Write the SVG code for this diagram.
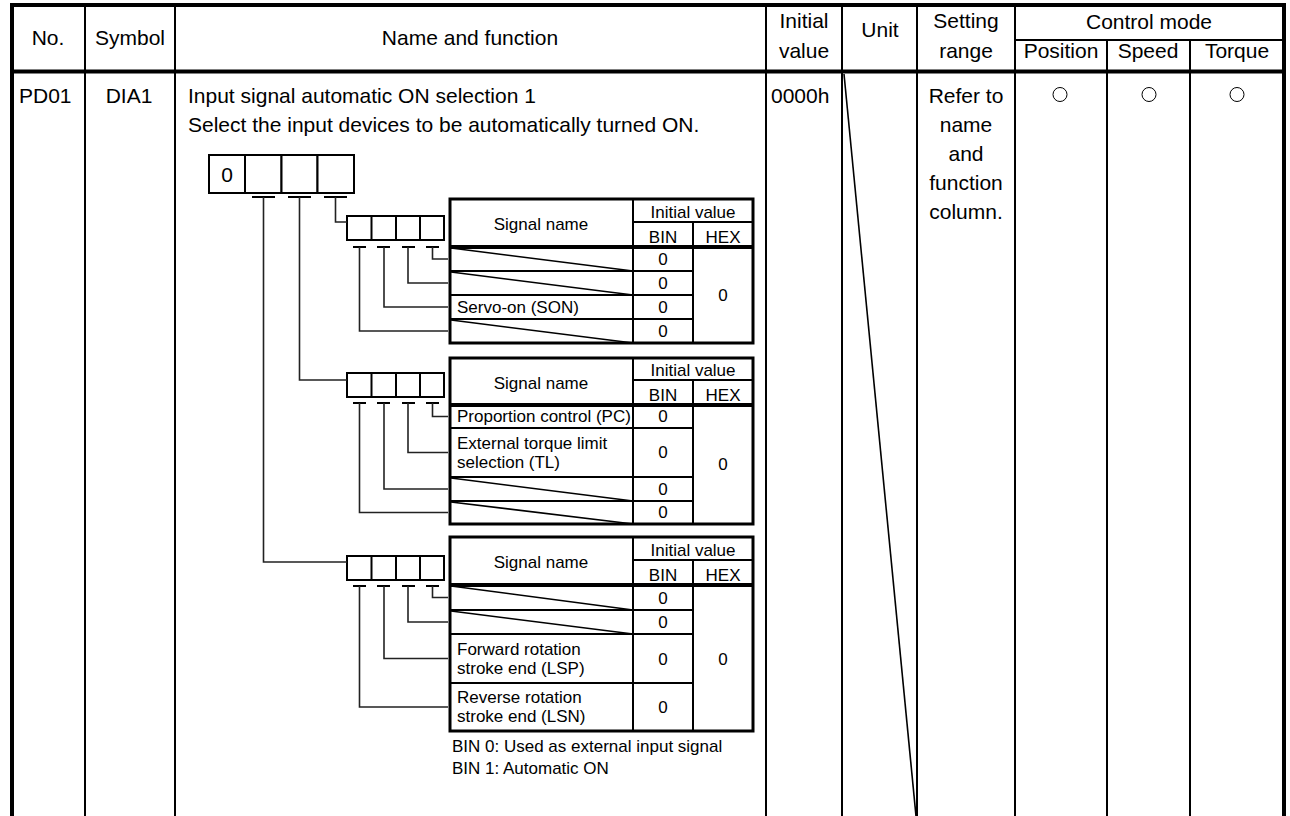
<svg xmlns="http://www.w3.org/2000/svg" width="1290" height="816" viewBox="0 0 1290 816">
<style>
.t{font-family:"Liberation Sans",Arial,sans-serif;font-size:21px;fill:#000}
.s{font-family:"Liberation Sans",Arial,sans-serif;font-size:17px;fill:#000}
.m{text-anchor:middle}
.thick{stroke:#000;stroke-width:4;fill:none}
.thin{stroke:#000;stroke-width:2;fill:none}
.box{stroke:#000;stroke-width:2;fill:#fff}
.sb{stroke:#000;stroke-width:3;fill:#fff}
.sl{stroke:#000;stroke-width:2;fill:none}
.dg{stroke:#000;stroke-width:1.6;fill:none}
.cn{stroke:#222;stroke-width:1.6;fill:none}
.ci{stroke:#000;stroke-width:1;fill:none}
</style>
<rect width="1290" height="816" fill="#fff"/>
<g id="main-table">
  <line class="thin" x1="85" y1="5" x2="85" y2="816"/>
  <line class="thin" x1="175" y1="5" x2="175" y2="816"/>
  <line class="thin" x1="766" y1="5" x2="766" y2="816"/>
  <line class="thin" x1="842" y1="5" x2="842" y2="816"/>
  <line class="thin" x1="917" y1="5" x2="917" y2="816"/>
  <line class="thin" x1="1015" y1="5" x2="1015" y2="816"/>
  <line class="thin" x1="1107" y1="40" x2="1107" y2="816"/>
  <line class="thin" x1="1190" y1="40" x2="1190" y2="816"/>
  <line class="thin" x1="1015" y1="40" x2="1284" y2="40"/>
  <line class="thick" x1="10" y1="5" x2="1286" y2="5"/>
  <line class="thick" x1="12" y1="5" x2="12" y2="816"/>
  <line class="thick" x1="1284" y1="5" x2="1284" y2="816"/>
  <line class="thick" x1="12" y1="71.5" x2="1284" y2="71.5"/>
  <line class="dg" x1="844" y1="74" x2="916" y2="816"/>
  <text class="t m" x="48" y="45">No.</text>
  <text class="t m" x="130" y="45">Symbol</text>
  <text class="t m" x="470" y="45">Name and function</text>
  <text class="t m" x="804" y="28">Initial</text>
  <text class="t m" x="804" y="58">value</text>
  <text class="t m" x="880" y="37">Unit</text>
  <text class="t m" x="966" y="28">Setting</text>
  <text class="t m" x="966" y="58">range</text>
  <text class="t m" x="1149" y="29">Control mode</text>
  <text class="t m" x="1061" y="58">Position</text>
  <text class="t m" x="1148" y="58">Speed</text>
  <text class="t m" x="1237" y="58">Torque</text>
  <text class="t" x="19" y="103">PD01</text>
  <text class="t m" x="129" y="103">DIA1</text>
  <text class="t" x="188" y="103">Input signal automatic ON selection 1</text>
  <text class="t" x="188" y="132">Select the input devices to be automatically turned ON.</text>
  <text class="t" x="771" y="103">0000h</text>
  <text class="t m" x="966" y="103">Refer to</text>
  <text class="t m" x="966" y="132">name</text>
  <text class="t m" x="966" y="161">and</text>
  <text class="t m" x="966" y="190">function</text>
  <text class="t m" x="966" y="219">column.</text>
  <circle class="ci" cx="1060" cy="94.5" r="7"/>
  <circle class="ci" cx="1149" cy="94.5" r="7"/>
  <circle class="ci" cx="1237" cy="94.5" r="7"/>
</g>
<g id="digit-boxes">
  <rect class="box" x="209" y="155" width="36" height="38"/>
  <rect class="box" x="245" y="155" width="36.5" height="38"/>
  <rect class="box" x="281.5" y="155" width="36" height="38"/>
  <rect class="box" x="317.5" y="155" width="36.5" height="38"/>
  <text class="t m" x="227" y="182">0</text>
  <line class="thin" x1="252" y1="197" x2="275" y2="197"/>
  <line class="thin" x1="288" y1="197" x2="311" y2="197"/>
  <line class="thin" x1="324" y1="197" x2="347" y2="197"/>
</g>
<g id="small-boxes-1">
  <rect class="box" x="347" y="216" width="97" height="24"/>
  <line class="sl" x1="371.5" y1="216" x2="371.5" y2="240"/>
  <line class="sl" x1="396" y1="216" x2="396" y2="240"/>
  <line class="sl" x1="420" y1="216" x2="420" y2="240"/>
  <line class="sl" x1="353" y1="247" x2="366" y2="247"/>
  <line class="sl" x1="377" y1="247" x2="390" y2="247"/>
  <line class="sl" x1="402" y1="247" x2="415" y2="247"/>
  <line class="sl" x1="426" y1="247" x2="439" y2="247"/>
</g>
<g id="small-boxes-2">
  <rect class="box" x="347" y="373" width="97" height="24"/>
  <line class="sl" x1="371.5" y1="373" x2="371.5" y2="397"/>
  <line class="sl" x1="396" y1="373" x2="396" y2="397"/>
  <line class="sl" x1="420" y1="373" x2="420" y2="397"/>
  <line class="sl" x1="353" y1="403" x2="366" y2="403"/>
  <line class="sl" x1="377" y1="403" x2="390" y2="403"/>
  <line class="sl" x1="402" y1="403" x2="415" y2="403"/>
  <line class="sl" x1="426" y1="403" x2="439" y2="403"/>
</g>
<g id="small-boxes-3">
  <rect class="box" x="347" y="556" width="97" height="24"/>
  <line class="sl" x1="371.5" y1="556" x2="371.5" y2="580"/>
  <line class="sl" x1="396" y1="556" x2="396" y2="580"/>
  <line class="sl" x1="420" y1="556" x2="420" y2="580"/>
  <line class="sl" x1="353" y1="586" x2="366" y2="586"/>
  <line class="sl" x1="377" y1="586" x2="390" y2="586"/>
  <line class="sl" x1="402" y1="586" x2="415" y2="586"/>
  <line class="sl" x1="426" y1="586" x2="439" y2="586"/>
</g>
<g id="subtable-1">
  <rect class="sb" x="450" y="199" width="303" height="144"/>
  <line class="sl" x1="633" y1="222" x2="753" y2="222"/>
  <line class="sl" x1="633" y1="199" x2="633" y2="343"/>
  <line class="sl" x1="693" y1="222" x2="693" y2="343"/>
  <line class="thick" x1="450" y1="247" x2="753" y2="247"/>
  <line class="sl" x1="450" y1="271" x2="693" y2="271"/>
  <line class="sl" x1="450" y1="295" x2="693" y2="295"/>
  <line class="sl" x1="450" y1="319" x2="693" y2="319"/>
  <line class="dg" x1="451" y1="248" x2="633" y2="271"/>
  <line class="dg" x1="451" y1="272" x2="633" y2="295"/>
  <line class="dg" x1="451" y1="320" x2="633" y2="343"/>
  <text class="s m" x="541" y="230">Signal name</text>
  <text class="s m" x="693" y="218">Initial value</text>
  <text class="s m" x="663" y="243">BIN</text>
  <text class="s m" x="723" y="243">HEX</text>
  <text class="s m" x="663" y="265">0</text>
  <text class="s m" x="663" y="289">0</text>
  <text class="s m" x="663" y="313">0</text>
  <text class="s m" x="663" y="337">0</text>
  <text class="s m" x="723" y="301">0</text>
  <text class="s" x="457" y="313">Servo-on (SON)</text>
</g>
<g id="subtable-2">
  <rect class="sb" x="450" y="358" width="303" height="166"/>
  <line class="sl" x1="633" y1="380" x2="753" y2="380"/>
  <line class="sl" x1="633" y1="358" x2="633" y2="524"/>
  <line class="sl" x1="693" y1="380" x2="693" y2="524"/>
  <line class="thick" x1="450" y1="405" x2="753" y2="405"/>
  <line class="sl" x1="450" y1="428" x2="693" y2="428"/>
  <line class="sl" x1="450" y1="477" x2="693" y2="477"/>
  <line class="sl" x1="450" y1="501" x2="693" y2="501"/>
  <line class="dg" x1="451" y1="478" x2="633" y2="501"/>
  <line class="dg" x1="451" y1="502" x2="633" y2="524"/>
  <text class="s m" x="541" y="389">Signal name</text>
  <text class="s m" x="693" y="376">Initial value</text>
  <text class="s m" x="663" y="401">BIN</text>
  <text class="s m" x="723" y="401">HEX</text>
  <text class="s" x="457" y="422">Proportion control (PC)</text>
  <text class="s" x="457" y="449">External torque limit</text>
  <text class="s" x="457" y="468">selection (TL)</text>
  <text class="s m" x="663" y="422">0</text>
  <text class="s m" x="663" y="458">0</text>
  <text class="s m" x="663" y="495">0</text>
  <text class="s m" x="663" y="518">0</text>
  <text class="s m" x="723" y="470">0</text>
</g>
<g id="subtable-3">
  <rect class="sb" x="450" y="537" width="303" height="194"/>
  <line class="sl" x1="633" y1="560" x2="753" y2="560"/>
  <line class="sl" x1="633" y1="537" x2="633" y2="731"/>
  <line class="sl" x1="693" y1="560" x2="693" y2="731"/>
  <line class="thick" x1="450" y1="585" x2="753" y2="585"/>
  <line class="sl" x1="450" y1="610" x2="693" y2="610"/>
  <line class="sl" x1="450" y1="634" x2="693" y2="634"/>
  <line class="sl" x1="450" y1="683" x2="693" y2="683"/>
  <line class="dg" x1="451" y1="586" x2="633" y2="610"/>
  <line class="dg" x1="451" y1="611" x2="633" y2="634"/>
  <text class="s m" x="541" y="568">Signal name</text>
  <text class="s m" x="693" y="556">Initial value</text>
  <text class="s m" x="663" y="581">BIN</text>
  <text class="s m" x="723" y="581">HEX</text>
  <text class="s m" x="663" y="604">0</text>
  <text class="s m" x="663" y="628">0</text>
  <text class="s" x="457" y="655">Forward rotation</text>
  <text class="s" x="457" y="674">stroke end (LSP)</text>
  <text class="s" x="457" y="703">Reverse rotation</text>
  <text class="s" x="457" y="722">stroke end (LSN)</text>
  <text class="s m" x="663" y="665">0</text>
  <text class="s m" x="663" y="713">0</text>
  <text class="s m" x="723" y="665">0</text>
  <text class="s" x="452" y="752">BIN 0: Used as external input signal</text>
  <text class="s" x="452" y="774">BIN 1: Automatic ON</text>
</g>
<g id="connectors">
  <polyline class="cn" points="335.5,197 335.5,222 347,222"/>
  <polyline class="cn" points="299.5,197 299.5,380 347,380"/>
  <polyline class="cn" points="263.5,197 263.5,562 347,562"/>
  <polyline class="cn" points="432.5,247 432.5,259 448,259"/>
  <polyline class="cn" points="408,247 408,283 448,283"/>
  <polyline class="cn" points="384,247 384,307 448,307"/>
  <polyline class="cn" points="359.5,247 359.5,331 448,331"/>
  <polyline class="cn" points="432.5,403 432.5,416.5 448,416.5"/>
  <polyline class="cn" points="408,403 408,452.5 448,452.5"/>
  <polyline class="cn" points="384,403 384,489 448,489"/>
  <polyline class="cn" points="359.5,403 359.5,512.5 448,512.5"/>
  <polyline class="cn" points="432.5,586 432.5,597.5 448,597.5"/>
  <polyline class="cn" points="408,586 408,622 448,622"/>
  <polyline class="cn" points="384,586 384,658.5 448,658.5"/>
  <polyline class="cn" points="359.5,586 359.5,707 448,707"/>
</g>
</svg>
